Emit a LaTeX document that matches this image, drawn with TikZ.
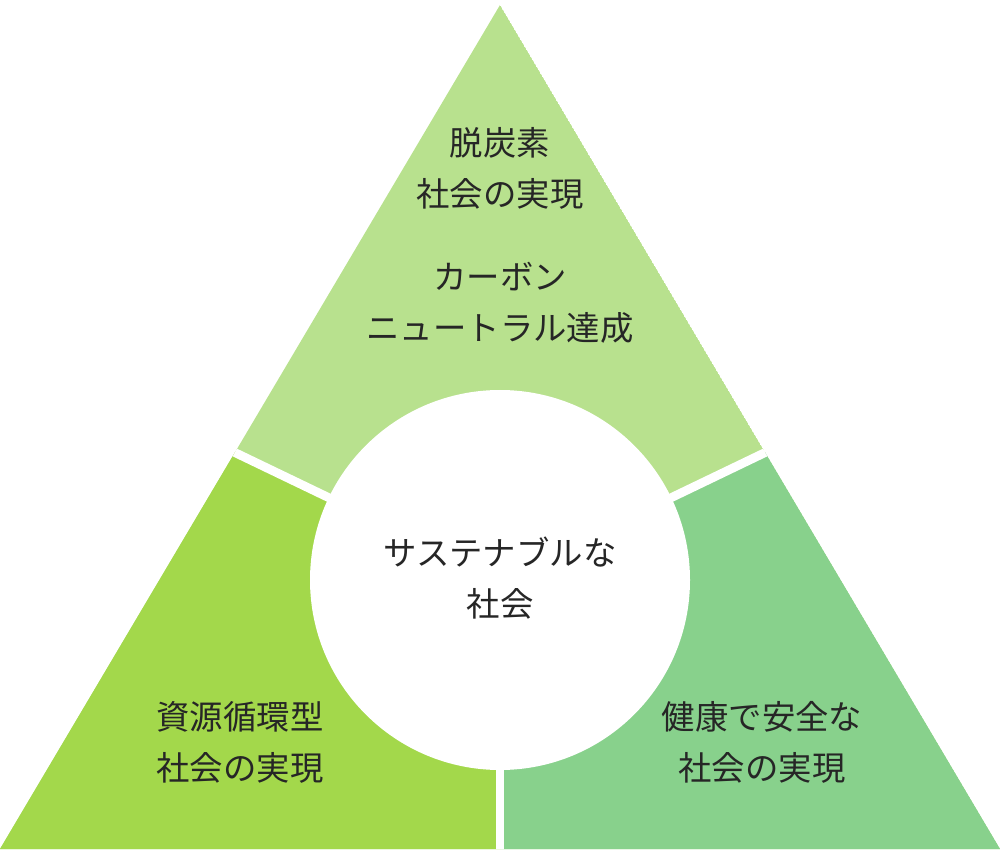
\documentclass[tikz,border=0pt]{standalone}
\usepackage{fontspec}
\setmainfont{Noto Sans CJK JP}
\definecolor{topgreen}{HTML}{B8E18E}
\definecolor{leftgreen}{HTML}{A3D84B}
\definecolor{rightgreen}{HTML}{88D18C}
\tikzset{
  label/.style={align=center, font=\fontsize{19pt}{29pt}\selectfont, text=black!85, inner sep=0pt},
  divider/.style={white, line width=5pt}
}
\begin{document}
\begin{tikzpicture}[x=0.02cm, y=-0.02cm]
  \useasboundingbox (0,0) rectangle (1000,854);
  \coordinate (apex) at (500,5);
  \coordinate (bl) at (0,849);
  \coordinate (br) at (1000,849);
  \coordinate (c) at (500,580);
  \begin{scope}
    % clip to the triangle, then fill the three parts
    \clip (apex) -- (bl) -- (br) -- cycle;
    \fill[topgreen] (apex) -- (bl) -- (br) -- cycle;
    \fill[leftgreen] (c) -- (-20,330) -- (-20,860) -- (500,860) -- cycle;
    \fill[rightgreen] (c) -- (1020,330) -- (1020,860) -- (500,860) -- cycle;
    \draw[divider] (c) -- (-20,330);
    \draw[divider] (c) -- (1020,330);
    \draw[divider] (c) -- (500,860);
  \end{scope}
  \fill[white] (c) circle (190);
  \node[label] (top1) at (500,168) {脱炭素\\社会の実現};
  \node[label] (top2) at (500,303) {カーボン\\ニュートラル達成};
  \node[label] (mid) at (500,578) {サステナブルな\\社会};
  \node[label] (left) at (240,742) {資源循環型\\社会の実現};
  \node[label] (right) at (762,742) {健康で安全な\\社会の実現};
\end{tikzpicture}
\end{document}
